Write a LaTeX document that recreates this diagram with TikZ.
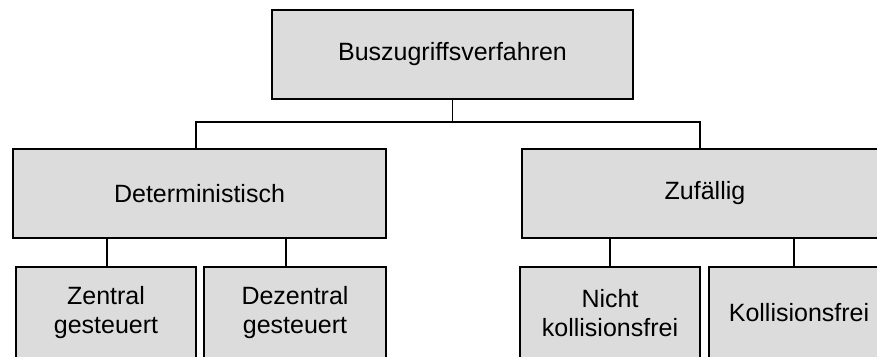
\documentclass[tikz,border=0pt]{standalone}
\usepackage{fontspec}
\setmainfont{Liberation Sans}
\definecolor{boxfill}{RGB}{220,220,220}
\begin{document}
\begin{tikzpicture}[x=1pt,y=-1pt,
  box/.style={draw=black, line width=1.8pt, fill=boxfill, rectangle,
    inner sep=0pt, align=center, font=\fontsize{25}{29}\selectfont},
  link/.style={draw=black, line width=1.6pt}]
  \useasboundingbox (0,0) rectangle (877,356);
  % hierarchy of bus access methods
  \node[box, minimum width=361pt, minimum height=89pt] (top) at (452.5,54.5) {Buszugriffsverfahren};
  \node[box, minimum width=373pt, minimum height=89pt] (det) at (199.5,193.5) {Deterministisch};
  \node[box, minimum width=366pt, minimum height=89pt] (zuf) at (705,193.5) {Zufällig};
  \node[box, minimum width=180pt, minimum height=92pt] (zen) at (106,313) {Zentral\\gesteuert};
  \node[box, minimum width=182pt, minimum height=92pt] (dez) at (295,313) {Dezentral\\gesteuert};
  \node[box, minimum width=180pt, minimum height=92pt] (nkf) at (610,313) {Nicht\\kollisionsfrei};
  \node[box, minimum width=180pt, minimum height=92pt] (kf) at (799,313) {Kollisionsfrei};
  % connectors
  \draw[link] (top.south) -- ++(0,22) coordinate (bus);
  \draw[link] ([xshift=-3.5pt]det.north) |- (bus) -| ([xshift=-5pt]zuf.north);
  \draw[link] ([xshift=1pt]zen.north) -- ([xshift=1pt]zen.north |- det.south);
  \draw[link] ([xshift=-9pt]dez.north) -- ([xshift=-9pt]dez.north |- det.south);
  \draw[link] (nkf.north) -- (nkf.north |- zuf.south);
  \draw[link] ([xshift=-5pt]kf.north) -- ([xshift=-5pt]kf.north |- zuf.south);
\end{tikzpicture}
\end{document}
